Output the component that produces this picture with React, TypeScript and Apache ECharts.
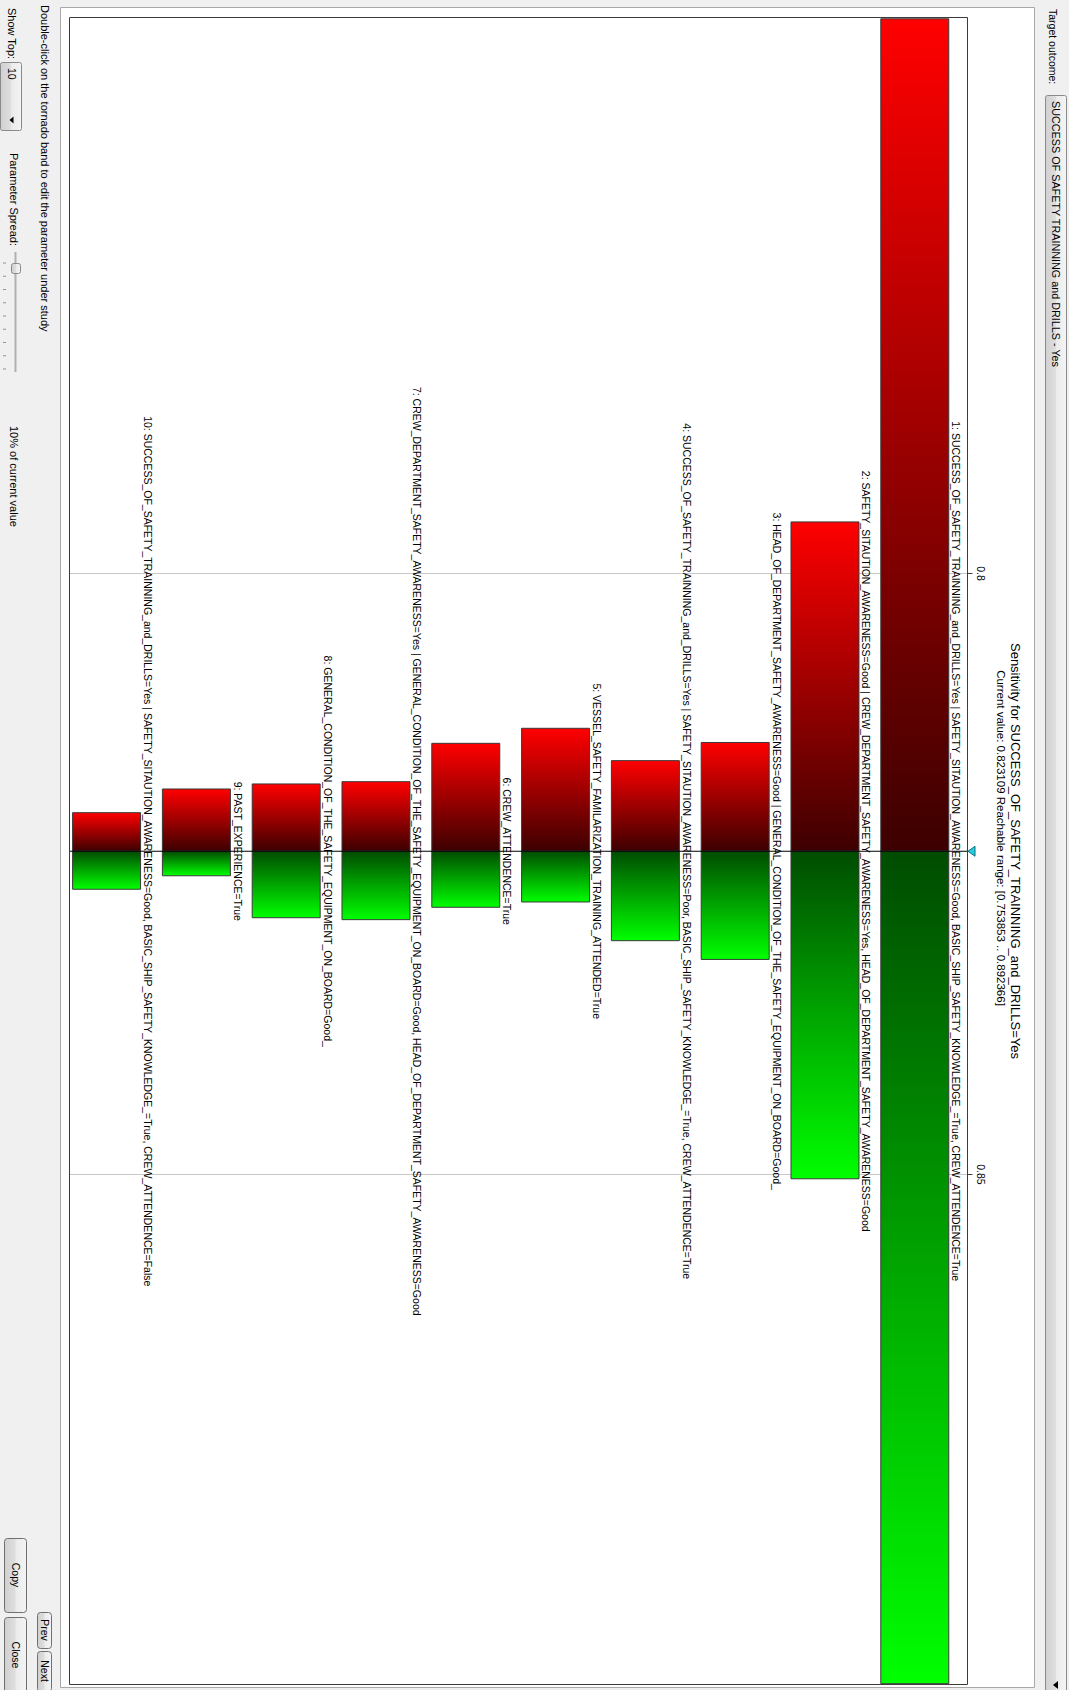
import React, { useEffect, useRef } from "react";
import * as echarts from "echarts";

// ---------- data ----------
const currentValue = 0.823109;
const reachableMin = 0.753853;
const reachableMax = 0.892366;
const tickValues = [0.8, 0.85];
const ranks = ["1", "2", "3", "4", "5", "6", "7", "8", "9", "10"];
const parameterLabels = [
  "1: SUCCESS_OF_SAFETY_TRAINNING_and_DRILLS=Yes | SAFETY_SITAUTION_AWARENESS=Good, BASIC_SHIP_SAFETY_KNOWLEDGE_=True, CREW_ATTENDENCE=True",
  "2: SAFETY_SITAUTION_AWARENESS=Good | CREW_DEPARTMENT_SAFETY_AWARENESS=Yes, HEAD_OF_DEPARTMENT_SAFETY_AWARENESS=Good",
  "3: HEAD_OF_DEPARTMENT_SAFETY_AWARENESS=Good | GENERAL_CONDITION_OF_THE_SAFETY_EQUIPMENT_ON_BOARD=Good_",
  "4: SUCCESS_OF_SAFETY_TRAINNING_and_DRILLS=Yes | SAFETY_SITAUTION_AWARENESS=Poor, BASIC_SHIP_SAFETY_KNOWLEDGE_=True, CREW_ATTENDENCE=True",
  "5: VESSEL_SAFETY_FAMILARIZATION_TRAINING_ATTENDED=True",
  "6: CREW_ATTENDENCE=True",
  "7: CREW_DEPARTMENT_SAFETY_AWARENESS=Yes | GENERAL_CONDITION_OF_THE_SAFETY_EQUIPMENT_ON_BOARD=Good, HEAD_OF_DEPARTMENT_SAFETY_AWARENESS=Good",
  "8: GENERAL_CONDITION_OF_THE_SAFETY_EQUIPMENT_ON_BOARD=Good_",
  "9: PAST_EXPERIENCE=True",
  "10: SUCCESS_OF_SAFETY_TRAINNING_and_DRILLS=Yes | SAFETY_SITAUTION_AWARENESS=Good, BASIC_SHIP_SAFETY_KNOWLEDGE_=True, CREW_ATTENDENCE=False",
];
const lowValues = [0.753853, 0.79571, 0.81406, 0.81557, 0.81288, 0.81413, 0.81732, 0.81751, 0.81793, 0.8199];
const highValues = [0.892366, 0.85036, 0.83211, 0.83055, 0.82733, 0.82777, 0.8288, 0.82864, 0.82515, 0.82627];
const titleText = "Sensitivity for SUCCESS_OF_SAFETY_TRAINNING_and_DRILLS=Yes";
const subtitleText = "Current value: 0.823109 Reachable range: [0.753853 .. 0.892366]";
const targetOutcome = "SUCCESS OF SAFETY TRAINNING and DRILLS - Yes";

// ---------- layout (unrotated frame, page is rotated 90deg clockwise) ----------
const W = 1690;
const H = 1069;
const FONT = "'Liberation Sans', Arial, Helvetica, sans-serif";

const btnFill = {
  type: "linear",
  x: 0,
  y: 0,
  x2: 0,
  y2: 1,
  colorStops: [
    { offset: 0, color: "#f4f4f4" },
    { offset: 0.48, color: "#ebebeb" },
    { offset: 0.52, color: "#dedede" },
    { offset: 1, color: "#d0d0d0" },
  ],
};

function uiText(text: string, x: number, y: number, size = 11, align = "left") {
  return {
    type: "text",
    z: 5,
    x,
    y,
    style: { text, fontSize: size, fontFamily: FONT, fill: "#000", verticalAlign: "middle", align },
  };
}

function button(label: string, x: number, y: number, w: number, h: number) {
  return [
    {
      type: "rect",
      z: 5,
      shape: { x: x + 0.5, y: y + 0.5, width: w, height: h, r: 3 },
      style: { fill: btnFill, stroke: "#707070", lineWidth: 1 },
    },
    uiText(label, x + w / 2, y + h / 2 + 0.5, 10.5, "center"),
  ];
}

function buildOption() {
  const redGrad = new echarts.graphic.LinearGradient(0, 0, 1, 0, [
    { offset: 0, color: "#ff0000" },
    { offset: 1, color: "#3c0000" },
  ]);
  const greenGrad = new echarts.graphic.LinearGradient(0, 0, 1, 0, [
    { offset: 0, color: "#004c00" },
    { offset: 1, color: "#00ff00" },
  ]);

  const sliderTicks = [0, 1, 2, 3, 4, 5, 6, 7, 8].map((i) => ({
    type: "line",
    z: 5,
    shape: { x1: 263 + i * 13.25, y1: 1063, x2: 263 + i * 13.25, y2: 1066 },
    style: { stroke: "#909090", lineWidth: 1 },
  }));

  return {
    animation: false,
    backgroundColor: "#f0f0f0",
    title: [
      {
        text: titleText,
        left: 851,
        textAlign: "center",
        top: 46,
        padding: 0,
        textStyle: { fontFamily: FONT, fontSize: 13, fontWeight: "normal", color: "#000", lineHeight: 15 },
      },
      {
        text: subtitleText,
        left: 838,
        textAlign: "center",
        top: 62,
        padding: 0,
        textStyle: { fontFamily: FONT, fontSize: 11.5, fontWeight: "normal", color: "#000", lineHeight: 12 },
      },
    ],
    grid: { left: 18.8, right: 6.3, top: 101.5, height: 898 },
    xAxis: {
      type: "value",
      min: reachableMin,
      max: reachableMax,
      position: "top",
      axisLine: { show: false },
      splitLine: { show: false },
      axisTick: { show: true, customValues: tickValues, length: 5, lineStyle: { color: "#404040" } },
      axisLabel: { customValues: tickValues, fontSize: 10.5, color: "#000", margin: 8, fontFamily: FONT },
    },
    yAxis: { type: "category", data: ranks, inverse: true, show: false },
    series: [
      {
        type: "custom",
        z: 1,
        silent: true,
        data: tickValues.map((v) => [v, 0]),
        renderItem: (params: any, api: any) => {
          const cs = params.coordSys;
          const x = Math.round(api.coord([api.value(0), 0])[0]) + 0.5;
          return {
            type: "line",
            shape: { x1: x, y1: cs.y, x2: x, y2: cs.y + cs.height },
            style: { stroke: "#c8c8c8", lineWidth: 1 },
          };
        },
      },
      {
        type: "custom",
        z: 2,
        data: ranks.map((r, i) => [lowValues[i], i, highValues[i]]),
        encode: { x: [0, 2], y: 1 },
        renderItem: (params: any, api: any) => {
          const i = params.dataIndex;
          const idx = api.value(1);
          const pl = api.coord([api.value(0), idx]);
          const pc = api.coord([currentValue, idx]);
          const ph = api.coord([api.value(2), idx]);
          const band = api.size([0, 1])[1];
          const barH = band * 0.757;
          const cy = pl[1] + band * 0.087;
          const top = cy - barH / 2;
          return {
            type: "group",
            children: [
              {
                type: "rect",
                shape: { x: pl[0], y: top, width: pc[0] - pl[0], height: barH },
                style: { fill: redGrad, stroke: "#3a3a3a", lineWidth: 1 },
              },
              {
                type: "rect",
                shape: { x: pc[0], y: top, width: ph[0] - pc[0], height: barH },
                style: { fill: greenGrad, stroke: "#3a3a3a", lineWidth: 1 },
              },
              {
                type: "text",
                style: {
                  text: parameterLabels[i],
                  x: pc[0],
                  y: top - 7.5,
                  align: "center",
                  verticalAlign: "middle",
                  fontSize: 10.5,
                  fontFamily: FONT,
                  fill: "#000",
                },
              },
            ],
          };
        },
      },
      {
        type: "custom",
        z: 3,
        silent: true,
        data: [[currentValue, 0]],
        renderItem: (params: any, api: any) => {
          const cs = params.coordSys;
          const x = api.coord([api.value(0), 0])[0];
          return {
            type: "group",
            children: [
              {
                type: "line",
                shape: { x1: x, y1: cs.y, x2: x, y2: cs.y + cs.height },
                style: { stroke: "#000", lineWidth: 1 },
              },
              {
                type: "polygon",
                shape: { points: [[x - 5, cs.y - 7.5], [x + 5, cs.y - 7.5], [x, cs.y - 0.5]] },
                style: { fill: "#20d0dc", stroke: "#0b6e86", lineWidth: 1 },
              },
            ],
          };
        },
      },
    ],
    graphic: [
      // white panel
      {
        type: "rect",
        z: 0,
        shape: { x: 7.5, y: 34.5, width: 1680, height: 974 },
        style: { fill: "#ffffff", stroke: "#a8a8a8", lineWidth: 1 },
      },
      // plot frame
      {
        type: "rect",
        z: 10,
        shape: { x: 17.5, y: 101.5, width: 1667, height: 898 },
        style: { fill: "none", stroke: "#3c3c3c", lineWidth: 1 },
      },
      // top strip: target outcome
      uiText("Target outcome:", 9, 16, 10.5),
      {
        type: "rect",
        z: 5,
        shape: { x: 95.5, y: 2.5, width: 1600, height: 21, r: 2 },
        style: { fill: btnFill, stroke: "#8a8a8a", lineWidth: 1 },
      },
      uiText(targetOutcome, 101, 13.5, 10.8),
      {
        type: "polygon",
        z: 6,
        shape: { points: [[1681, 11], [1689, 11], [1685, 16]] },
        style: { fill: "#000" },
      },
      // bottom strip
      uiText("Double-click on the tornado band to edit the parameter under study", 5, 1024.5, 11),
      uiText("Show Top:", 8, 1057.5, 11),
      {
        type: "rect",
        z: 5,
        shape: { x: 62.5, y: 1047.5, width: 68, height: 21, r: 2 },
        style: { fill: btnFill, stroke: "#8a8a8a", lineWidth: 1 },
      },
      uiText("10", 68, 1057.5, 10.5),
      {
        type: "polygon",
        z: 6,
        shape: { points: [[116.5, 1055.5], [123.5, 1055.5], [120, 1059.5]] },
        style: { fill: "#000" },
      },
      uiText("Parameter Spread:", 153, 1055.5, 11),
      {
        type: "line",
        z: 5,
        shape: { x1: 252, y1: 1053.5, x2: 372, y2: 1053.5 },
        style: { stroke: "#b0b0b0", lineWidth: 2 },
      },
      {
        type: "rect",
        z: 6,
        shape: { x: 263.5, y: 1048.5, width: 10, height: 9, r: 2 },
        style: { fill: btnFill, stroke: "#8a8a8a", lineWidth: 1 },
      },
      ...sliderTicks,
      uiText("10% of current value", 426, 1055.5, 11),
      ...button("Copy", 1538, 1042, 74, 22),
      ...button("Close", 1617, 1042, 76, 22),
      ...button("Prev", 1612, 1017, 36, 14),
      ...button("Next", 1651, 1017, 40, 14),
    ],
  };
}

export default function App() {
  const ref = useRef<HTMLDivElement>(null);
  useEffect(() => {
    document.body.style.margin = "0";
    const chart = echarts.init(ref.current as HTMLDivElement, undefined, { renderer: "svg", width: W, height: H });
    chart.setOption(buildOption() as any);
    return () => chart.dispose();
  }, []);
  return (
    <div style={{ position: "absolute", left: 0, top: 0, width: H, height: W, overflow: "hidden", background: "#f0f0f0" }}>
      <div
        ref={ref}
        style={{
          position: "absolute",
          left: 0,
          top: 0,
          width: W,
          height: H,
          transformOrigin: "0 0",
          transform: `translate(${H}px, 0px) rotate(90deg)`,
        }}
      />
    </div>
  );
}
